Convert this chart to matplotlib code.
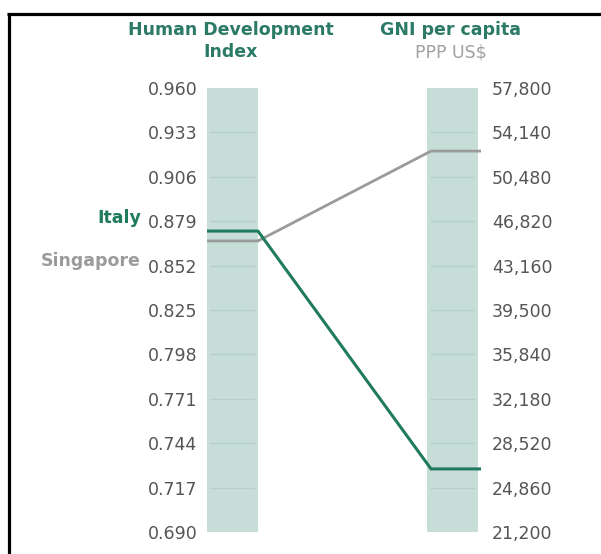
import matplotlib.pyplot as plt
from matplotlib.lines import Line2D
import numpy as np

# values
countries = ['Italy', 'Singapore']
hdi = [0.873, 0.867]
gni = [26400, 52600]
colors = ['#1f7a5e', '#9b9b9b']

hdi_ticks = [0.690, 0.717, 0.744, 0.771, 0.798, 0.825, 0.852, 0.879, 0.906, 0.933, 0.960]
gni_ticks = [21200, 24860, 28520, 32180, 35840, 39500, 43160, 46820, 50480, 54140, 57800]

W, H = 601, 554
fig = plt.figure(figsize=(W / 100, H / 100), dpi=100)

# axes spans from left bar's left edge to right bar's right edge (in px)
x0, x1 = 207, 478
y_top, y_bot = 88, 532
ax = fig.add_axes([x0 / W, (H - y_bot) / H, (x1 - x0) / W, (y_bot - y_top) / H])
ax.set_xlim(x0, x1)
ax.set_ylim(hdi_ticks[0], hdi_ticks[-1])
ax2 = ax.twinx()
ax2.set_ylim(gni_ticks[0], gni_ticks[-1])
# keep the HDI axes (with the lines) on top of the GNI bar
ax.set_zorder(ax2.get_zorder() + 1)
ax.patch.set_visible(False)

bar_w = 51
left_x, right_x = 207, 427
bar_col = '#c6ded7'
grid_col = '#b6cfc8'
ax.bar(left_x, hdi_ticks[-1] - hdi_ticks[0], bottom=hdi_ticks[0], width=bar_w,
       align='edge', color=bar_col, zorder=1)
ax2.bar(right_x, gni_ticks[-1] - gni_ticks[0], bottom=gni_ticks[0], width=bar_w,
        align='edge', color=bar_col, zorder=1)
ax.hlines(hdi_ticks[1:-1], left_x + 3, left_x + bar_w - 3, color=grid_col, lw=1, zorder=2)
ax2.hlines(gni_ticks[1:-1], right_x + 3, right_x + bar_w - 3, color=grid_col, lw=1, zorder=2)

# connecting lines: map GNI onto the HDI scale
def gni_to_hdi(g):
    f = (g - gni_ticks[0]) / (gni_ticks[-1] - gni_ticks[0])
    return hdi_ticks[0] + f * (hdi_ticks[-1] - hdi_ticks[0])

for name, h, g, c, lw in zip(countries[::-1], hdi[::-1], gni[::-1], colors[::-1], [2.0, 2.2]):
    yr = gni_to_hdi(g)
    ax.plot([left_x, left_x + bar_w, right_x + 4, right_x + bar_w + 3], [h, h, yr, yr],
            color=c, lw=lw, solid_capstyle='butt', clip_on=False, zorder=3)

for a in (ax, ax2):
    for s in a.spines.values():
        s.set_visible(False)
    a.tick_params(length=0, labelsize=12.5, labelcolor='#555555')
ax.set_xticks([])
ax.set_yticks(hdi_ticks)
ax.set_yticklabels(['%.3f' % v for v in hdi_ticks])
ax.tick_params(axis='y', pad=7)
ax2.set_yticks(gni_ticks)
ax2.set_yticklabels(['{:,}'.format(v) for v in gni_ticks])
ax2.tick_params(axis='y', pad=10)

# country names beside tick labels
fig.text(141 / W, 1 - 218 / H, 'Italy', ha='right', va='center', fontsize=12.5,
         fontweight='bold', color=colors[0])
fig.text(141 / W, 1 - 261 / H, 'Singapore', ha='right', va='center', fontsize=12.5,
         fontweight='bold', color=colors[1])

# column headers
title_col = '#2b7a66'
fig.text(231 / W, 1 - 30 / H, 'Human Development', ha='center', va='center',
         fontsize=12.5, fontweight='bold', color=title_col)
fig.text(231 / W, 1 - 52 / H, 'Index', ha='center', va='center',
         fontsize=12.5, fontweight='bold', color=title_col)
fig.text(451 / W, 1 - 30 / H, 'GNI per capita', ha='center', va='center',
         fontsize=12.5, fontweight='bold', color=title_col)
fig.text(451 / W, 1 - 52 / H, 'PPP US$', ha='center', va='center',
         fontsize=12.5, color='#a0a0a0')

# black frame (top and left)
fig.add_artist(Line2D([7 / W, 1], [1 - 13.5 / H, 1 - 13.5 / H], color='black', lw=2.3,
                      solid_capstyle='butt'))
fig.add_artist(Line2D([8.5 / W, 8.5 / W], [0, 1 - 12.5 / H], color='black', lw=2.3,
                      solid_capstyle='butt'))

fig.savefig('out.png', dpi=100)
